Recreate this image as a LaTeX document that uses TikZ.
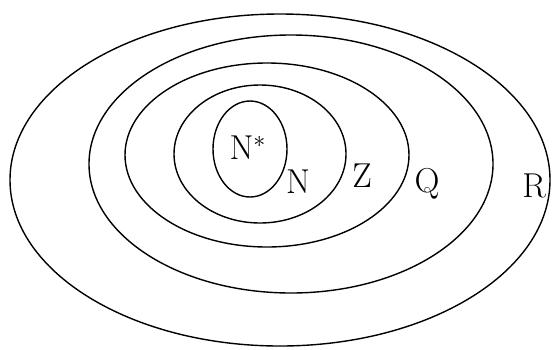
\documentclass[tikz,border=0pt]{standalone}
\usepackage{tikz}
\usetikzlibrary{positioning}

\begin{document}
\begin{tikzpicture}[x=0.5pt, y=-0.5pt,
    setline/.style={draw=black, line width=0.7pt},
    setlab/.style={font=\LARGE, inner sep=0pt}
]
    \useasboundingbox (0,0) rectangle (556,349);

    % nested sets
    \draw[setline] (280,180) ellipse [x radius=270, y radius=166];
    \draw[setline] (291,164) ellipse [x radius=202, y radius=129];
    \draw[setline] (267,155) ellipse [x radius=142, y radius=92];
    \draw[setline] (260,154) ellipse [x radius=86,  y radius=69];
    \draw[setline] (250,149) ellipse [x radius=37,  y radius=48];

    % labels
    \node[setlab] (Nstar) at (248,148) {$\mathrm{N}^{*}$};
    \node[setlab] (Nat)   at (298,182) {N};
    \node[setlab] (Int)   at (362,176) {Z};
    \node[setlab] (Rat)   at (427,184) {Q};
    \node[setlab] (Real)  at (534,186) {R};
\end{tikzpicture}
\end{document}
